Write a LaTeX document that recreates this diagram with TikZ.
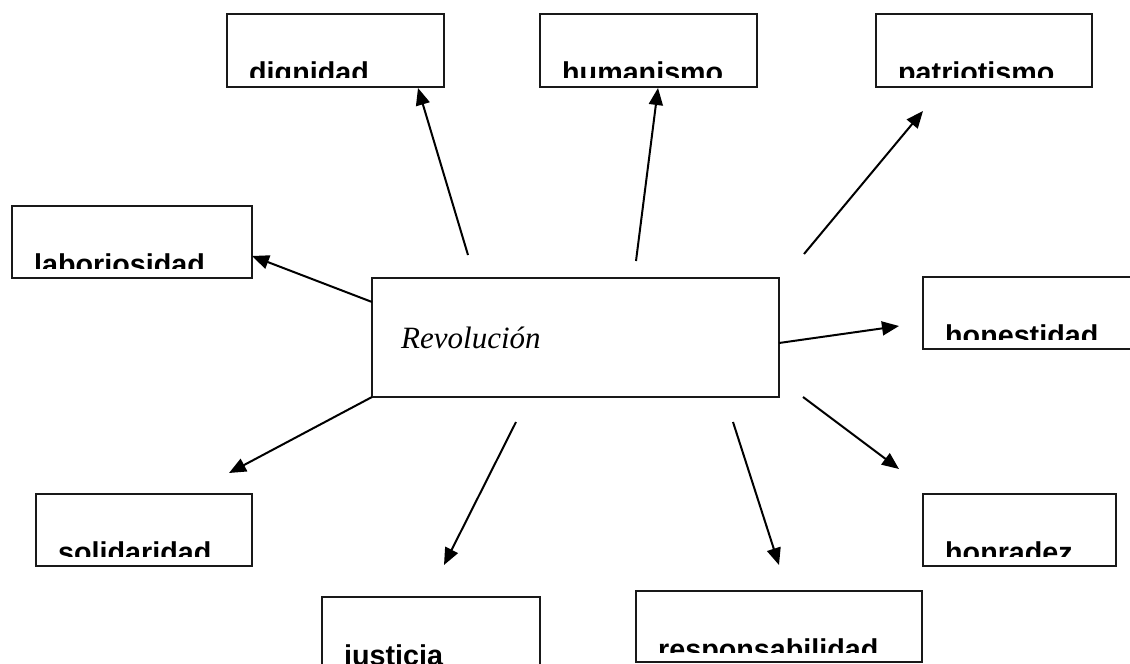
\documentclass[tikz,border=0pt]{standalone}
\usepackage{fontspec}
\setmainfont{Liberation Serif}
\newfontfamily\lblfont{Liberation Sans Bold}
\usetikzlibrary{arrows.meta}
\newcommand\mkbox[6]{%
  \node[box, minimum width=#4pt, minimum height=#5pt] (#1) at (#2,#3) {};
  \begin{scope}
    \clip (#2,#3) rectangle ++(#4,#5-10);
    \node[lbltext] (#1-t) at (#2+22,#3+68) {#6};
  \end{scope}}
\begin{document}
\begin{tikzpicture}[x=1pt,y=-1pt,
  box/.style={draw=black!90, line width=2pt, inner sep=0pt, outer sep=0pt, anchor=north west},
  arr/.style={line width=2pt, -{Triangle[length=17pt,width=14pt]}},
  lbltext/.style={anchor=base west, inner sep=0pt, font=\lblfont\fontsize{28.7}{34}\selectfont}]
\useasboundingbox (0,0) rectangle (1130,664);
\fill[white] (0,0) rectangle (1130,664);

\mkbox{dig}{227}{14}{217}{73}{dignidad}
\mkbox{hum}{540}{14}{217}{73}{humanismo}
\mkbox{pat}{876}{14}{216}{73}{patriotismo}
\mkbox{lab}{12}{206}{240}{72}{laboriosidad}
\mkbox{hon}{923}{277}{230}{72}{honestidad}
\mkbox{sol}{36}{494}{216}{72}{solidaridad}
\mkbox{honr}{923}{494}{193}{72}{honradez}
\mkbox{jus}{322}{597}{218}{90}{justicia}
\mkbox{resp}{636}{591}{286}{71}{responsabilidad}

\node[box, minimum width=407pt, minimum height=119pt] (rev) at (372,278) {};
\node[anchor=base west, inner sep=0pt, font=\itshape\fontsize{31}{36}\selectfont] (rev-t) at (401,348) {Revolución};

\coordinate (s1) at (468,255); \coordinate (e1) at (418,88);
\coordinate (s2) at (636,261); \coordinate (e2) at (658,88);
\coordinate (s3) at (804,254); \coordinate (e3) at (923,111);
\coordinate (s4) at (372,302); \coordinate (e4) at (252,256);
\coordinate (s5) at (779,343); \coordinate (e5) at (899,326);
\coordinate (e6) at (229,473);
\coordinate (s7) at (516,422); \coordinate (e7) at (444,565);
\coordinate (s8) at (733,422); \coordinate (e8) at (779,565);
\coordinate (s9) at (803,397); \coordinate (e9) at (899,469);

\draw[arr] (s1) -- (e1);
\draw[arr] (s2) -- (e2);
\draw[arr] (s3) -- (e3);
\draw[arr] (s4) -- (e4);
\draw[arr] (s5) -- (e5);
\draw[arr] (rev.south west) -- (e6);
\draw[arr] (s7) -- (e7);
\draw[arr] (s8) -- (e8);
\draw[arr] (s9) -- (e9);
\end{tikzpicture}
\end{document}
